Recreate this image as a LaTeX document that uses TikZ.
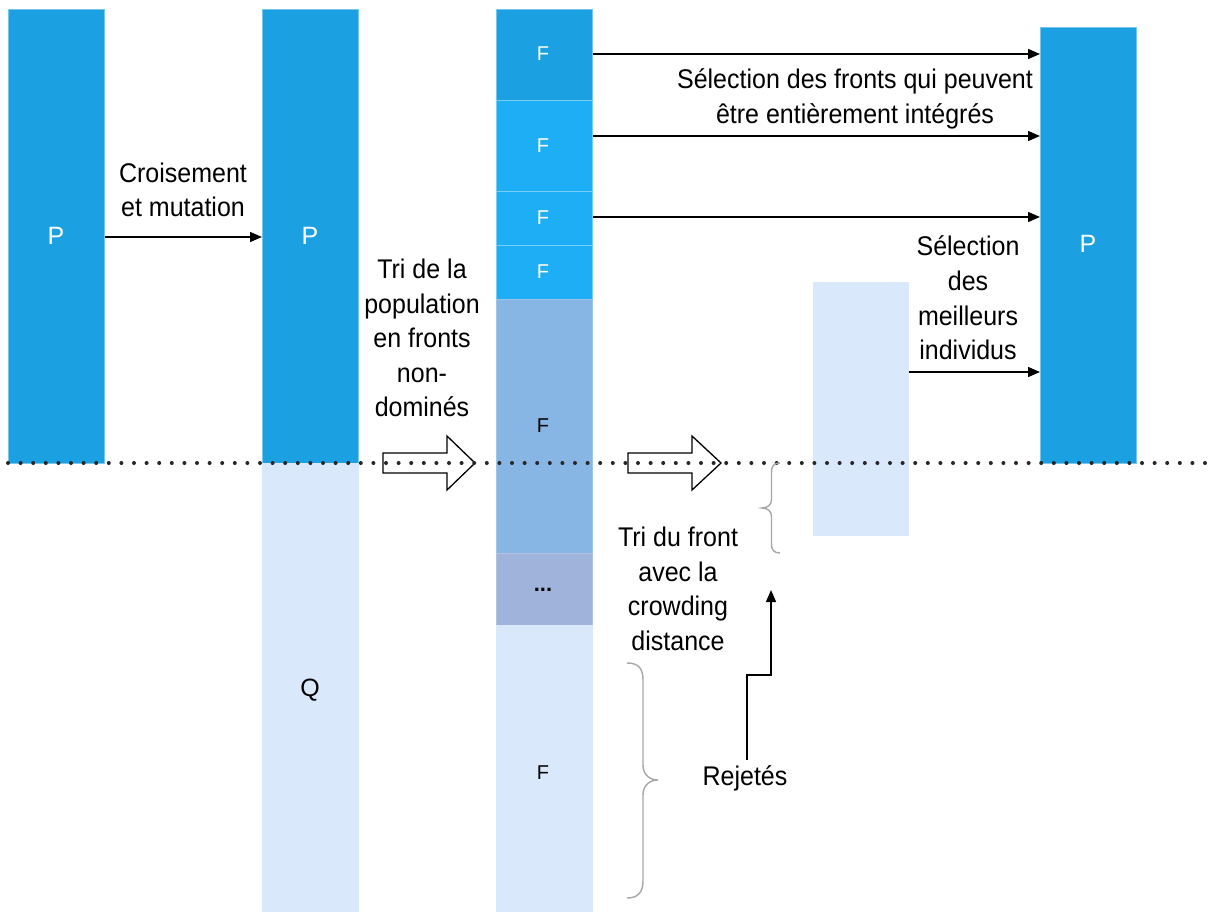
\documentclass[tikz,border=0pt]{standalone}
\usepackage{fontspec}
\setmainfont{Liberation Sans}
\usetikzlibrary{arrows.meta}
\definecolor{pdark}{HTML}{1BA1E2}
\definecolor{fbright}{HTML}{1DAEF5}
\definecolor{fmid}{HTML}{87B6E4}
\definecolor{fdots}{HTML}{A0B4DB}
\definecolor{plight}{HTML}{DAE8FC}
\definecolor{bracegray}{HTML}{A6A6A6}
\tikzset{
  popbox/.style={rectangle, inner sep=0pt, anchor=north west, line width=0.8pt},
  darkbox/.style={popbox, fill=pdark, draw=pdark!60!white},
  brightbox/.style={popbox, fill=fbright, draw=fbright!60!white},
  midbox/.style={popbox, fill=fmid, draw=fmid!80!white},
  dotsbox/.style={popbox, fill=fdots, draw=fdots!80!white},
  lightbox/.style={popbox, fill=plight, draw=plight},
  lab/.style={font=\fontsize{25}{32}\selectfont, align=center, inner sep=0pt, yscale=1.08, transform shape},
  boxlab/.style={font=\fontsize{25}{28}\selectfont, inner sep=0pt},
  flab/.style={font=\fontsize{20}{22}\selectfont, inner sep=0pt},
  conn/.style={line width=1.4pt, -{Triangle[length=12pt,width=10pt]}},
  hollow/.style={draw, line width=1.3pt, fill=white},
  brc/.style={draw=bracegray, line width=1.4pt}
}
\begin{document}
\begin{tikzpicture}[x=1pt,y=-1pt]
\useasboundingbox (0,0) rectangle (1214,911);
% boxes
\node[darkbox, minimum width=96pt, minimum height=454pt] (p1) at (8,9) {};
\node[darkbox, minimum width=96pt, minimum height=454pt] (p2) at (262,9) {};
\node[lightbox, minimum width=96pt, minimum height=448pt] (q) at (262,463) {};
\node[darkbox, minimum width=96pt, minimum height=91pt] (f1) at (496,9) {};
\node[brightbox, minimum width=96pt, minimum height=91pt] (f2) at (496,100) {};
\node[brightbox, minimum width=96pt, minimum height=54pt] (f3) at (496,191) {};
\node[brightbox, minimum width=96pt, minimum height=54pt] (f4) at (496,245) {};
\node[midbox, minimum width=96pt, minimum height=254pt] (f5) at (496,299) {};
\node[dotsbox, minimum width=96pt, minimum height=72pt] (f6) at (496,553) {};
\node[lightbox, minimum width=96pt, minimum height=286pt] (f7) at (496,625) {};
\node[lightbox, minimum width=95pt, minimum height=253pt] (sel) at (813,282) {};
\node[darkbox, minimum width=96pt, minimum height=436pt] (p3) at (1040,27) {};
% box labels
\node[boxlab, text=white] (lp1) at (56,236) {P};
\node[boxlab, text=white] (lp2) at (310,236) {P};
\node[boxlab] (lq) at (310,690) {Q};
\node[boxlab, text=white] (lp3) at (1088,244) {P};
\node[flab, text=white] (lf1) at (543,54) {F};
\node[flab, text=white] (lf2) at (543,146) {F};
\node[flab, text=white] (lf3) at (543,218) {F};
\node[flab, text=white] (lf4) at (543,272) {F};
\node[flab] (lf5) at (543,426) {F};
\node[flab, font=\fontsize{22}{22}\selectfont\bfseries] (lf6) at (543,590) {...};
\node[flab] (lf7) at (543,773) {F};
% hollow arrows
\draw[hollow] (383,453) -- (447,453) -- (447,436) -- (475,463) -- (447,490) -- (447,473) -- (383,473) -- cycle;
\draw[hollow] (628,453) -- (692,453) -- (692,436) -- (721,463) -- (692,490) -- (692,473) -- (628,473) -- cycle;
% dotted line
\draw[line width=4pt, line cap=round, draw=black!85, dash pattern=on 0pt off 12.6pt] (8,463) -- (1214,463);
% connectors
\draw[conn] (p1.east |- 0,237) -- (p2.west |- 0,237);
\draw[conn] (f1.east |- 0,54) -- (p3.west |- 0,54);
\draw[conn] (f2.east |- 0,136) -- (p3.west |- 0,136);
\draw[conn] (f3.east |- 0,217) -- (p3.west |- 0,217);
\draw[conn] (sel.east |- 0,372) -- (p3.west |- 0,372);
% text labels
\node[lab] (t1) at (183,190) {Croisement\\et mutation};
\node[lab] (t2) at (855,99) {Sélection des fronts qui peuvent\\être entièrement intégrés};
\node[lab] (t3) at (968,298) {Sélection\\des\\meilleurs\\individus};
\node[lab] (t4) at (422,338) {Tri de la\\population\\en fronts\\non-\\dominés};
\node[lab] (t5) at (678,589) {Tri du front\\avec la\\crowding\\distance};
\node[lab] (rej) at (745,778) {Rejetés};
% braces
\draw[brc] (780,463) .. controls (774,463) and (771.5,466) .. (771.5,472) -- (771.5,500) .. controls (771.5,505) and (767,508) .. (762,508) .. controls (767,508) and (771.5,511) .. (771.5,516) -- (771.5,544) .. controls (771.5,550) and (774,553) .. (780,553);
\draw[brc] (627,663) .. controls (638,663) and (643,668) .. (643,680) -- (643,765) .. controls (643,775) and (650,780) .. (658,780) .. controls (650,780) and (643,785) .. (643,795) -- (643,881) .. controls (643,892) and (638,898) .. (627,898);
% rejetes arrow
\coordinate (bracetip) at (771,590);
\draw[conn] (rej.north -| 747,0) ++(0,-5) -- (747,675) -- (771,675) -- (bracetip);
\end{tikzpicture}
\end{document}
